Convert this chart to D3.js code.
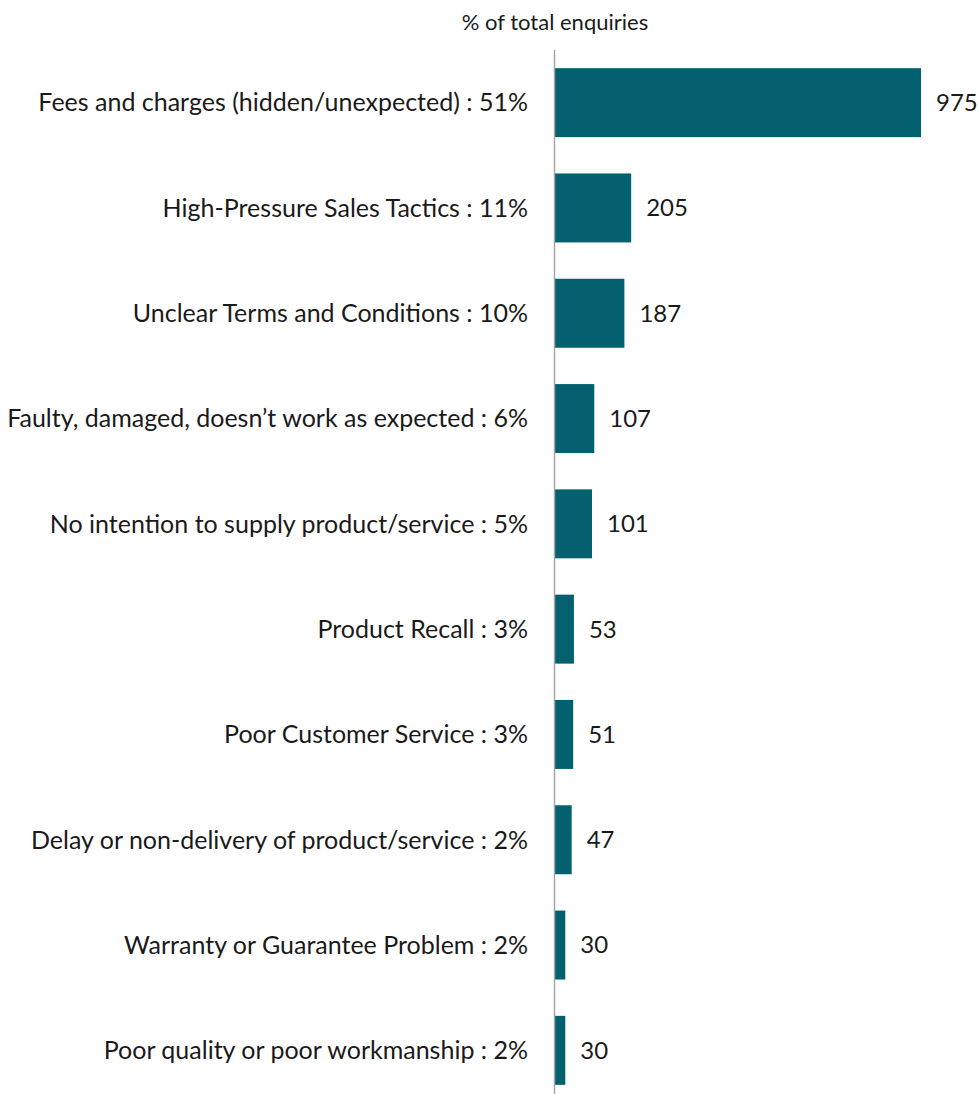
<!DOCTYPE html>
<html>
<head>
<meta charset="utf-8">
<script src="https://cdn.jsdelivr.net/npm/d3@7"></script>
<style>
  html, body { margin: 0; padding: 0; background: #ffffff; }
  svg { display: block; font-family: "Lato", "Open Sans", sans-serif; }
</style>
</head>
<body>
<svg id="chart" width="979" height="1094"></svg>
<script>
// Enquiry categories, in display order
const categories = [
  "Fees and charges (hidden/unexpected)",
  "High-Pressure Sales Tactics",
  "Unclear Terms and Conditions",
  "Faulty, damaged, doesn\u2019t work as expected",
  "No intention to supply product/service",
  "Product Recall",
  "Poor Customer Service",
  "Delay or non-delivery of product/service",
  "Warranty or Guarantee Problem",
  "Poor quality or poor workmanship"
];
// Number of enquiries per category
const counts = [975, 205, 187, 107, 101, 53, 51, 47, 30, 30];
// Share of total enquiries (%)
const shares = [51, 11, 10, 6, 5, 3, 3, 2, 2, 2];
const axisTitle = "% of total enquiries";

const data = categories.map((c, i) => ({ name: c, count: counts[i], share: shares[i] }));

const svg = d3.select("#chart");
const x0 = 554;

const x = d3.scaleLinear()
  .domain([0, 975])
  .range([x0, 921]);

const y = d3.scaleBand()
  .domain(categories)
  .range([50, 1103])
  .paddingInner(0.345)
  .paddingOuter(0.1725);

// Bars
svg.append("g")
  .selectAll("rect")
  .data(data)
  .join("rect")
  .attr("x", x(0))
  .attr("y", d => y(d.name))
  .attr("width", d => x(d.count) - x(0))
  .attr("height", y.bandwidth())
  .attr("fill", "#03616F");

// Vertical baseline
svg.append("line")
  .attr("x1", x0 + 0.5).attr("x2", x0 + 0.5)
  .attr("y1", 50).attr("y2", 1094)
  .attr("stroke", "#a6a6a6")
  .attr("stroke-width", 1.5);

// Category labels with share
svg.append("g")
  .selectAll("text")
  .data(data)
  .join("text")
  .attr("x", x0 - 26)
  .attr("y", d => y(d.name) + y.bandwidth() / 2)
  .attr("dy", "0.35em")
  .attr("text-anchor", "end")
  .attr("font-size", 25)
  .attr("fill", "#1a1a1a")
  .text(d => `${d.name} : ${d.share}%`);

// Count labels
svg.append("g")
  .selectAll("text")
  .data(data)
  .join("text")
  .attr("x", d => x(d.count) + 15)
  .attr("y", d => y(d.name) + y.bandwidth() / 2)
  .attr("dy", "0.35em")
  .attr("font-size", 24)
  .attr("fill", "#1a1a1a")
  .text(d => d.count);

// Axis title
svg.append("text")
  .attr("x", 555)
  .attr("y", 22)
  .attr("dy", "0.35em")
  .attr("text-anchor", "middle")
  .attr("font-size", 22)
  .attr("fill", "#1a1a1a")
  .text(axisTitle);
</script>
</body>
</html>
